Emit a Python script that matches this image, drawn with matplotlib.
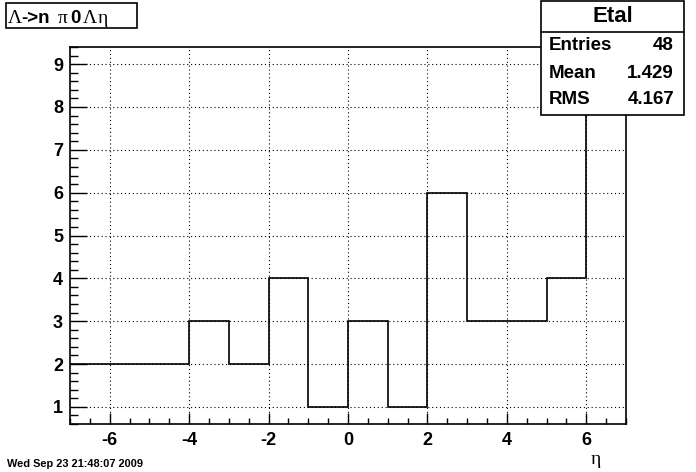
import matplotlib
matplotlib.use("Agg")
import matplotlib.pyplot as plt
from matplotlib.patches import Rectangle
from matplotlib.ticker import MultipleLocator

# histogram "Etal" : eta of Lambda
bin_edges = [-7, -6, -5, -4, -3, -2, -1, 0, 1, 2, 3, 4, 5, 6, 7]
counts = [2, 2, 2, 3, 2, 4, 1, 3, 1, 6, 3, 3, 4, 9]

stat_names = ["Entries", "Mean", "RMS"]
stat_values = ["48", "1.429", "4.167"]
hist_name = "Etal"
date_str = "Wed Sep 23 21:48:07 2009"

W, H = 696, 472
plt.rcParams['font.family'] = ['Liberation Sans', 'DejaVu Sans']
plt.rcParams['axes.unicode_minus'] = False


def fx(px):
    return px / W


def fy(py):
    return 1 - py / H


fig = plt.figure(figsize=(W / 100, H / 100), dpi=100)
fig.patch.set_facecolor("white")

ax = fig.add_axes([fx(70), fy(424), fx(626) - fx(70), fy(47) - fy(424)])
ax.stairs(counts, bin_edges, color="black", lw=1.2, baseline=None)
ax.set_xlim(-7, 7)
ax.set_ylim(0.6, 9.4)

ax.xaxis.set_major_locator(MultipleLocator(2))
ax.xaxis.set_minor_locator(MultipleLocator(0.5))
ax.yaxis.set_major_locator(MultipleLocator(1))
ax.yaxis.set_minor_locator(MultipleLocator(0.2))
ax.tick_params(axis="x", which="major", direction="in", length=8, width=1, pad=6)
ax.tick_params(axis="x", which="minor", direction="in", length=4, width=1)
ax.tick_params(axis="y", which="major", direction="in", length=12, width=1, pad=5)
ax.tick_params(axis="y", which="minor", direction="in", length=6, width=1)
for lab in ax.get_xticklabels() + ax.get_yticklabels():
    lab.set_fontweight("bold")
    lab.set_fontsize(13)
ax.grid(True, which="major", color="black", linestyle=(0, (1, 2.5)), lw=0.8)
for sp in ax.spines.values():
    sp.set_linewidth(1.2)

# x axis label
fig.text(fx(596), fy(459), "η", family=["Liberation Serif"], fontsize=14,
         ha="center", va="center")

# date stamp
fig.text(fx(7), fy(464), date_str, fontsize=7.9, fontweight="bold",
         ha="left", va="center")

# title box
fig.patches.append(Rectangle((fx(6), fy(28)), fx(137) - fx(6), fy(3) - fy(28),
                             transform=fig.transFigure, facecolor="white",
                             edgecolor="black", lw=1.2, zorder=5))
pieces = [
    (8, "Λ", "serif"), (21, "->n", "sans"), (58, "π", "serif"),
    (70, "0", "sans"), (83, "Λ", "serif"), (98, "η", "serif"),
]
for px, s, kind in pieces:
    if kind == "serif":
        fig.text(fx(px), fy(23), s, family=["Liberation Serif"], fontsize=14,
                 ha="left", va="baseline", zorder=6)
    else:
        fig.text(fx(px), fy(23), s, fontsize=13.5, fontweight="bold",
                 ha="left", va="baseline", zorder=6)

# stats box
fig.patches.append(Rectangle((fx(541), fy(115)), fx(684) - fx(541), fy(1) - fy(115),
                             transform=fig.transFigure, facecolor="white",
                             edgecolor="black", lw=1.2, zorder=5))
fig.lines.append(plt.Line2D([fx(541), fx(684)], [fy(32), fy(32)],
                            transform=fig.transFigure, color="black", lw=1.2, zorder=6))
fig.text(fx(612.5), fy(17), hist_name, fontsize=16, fontweight="bold",
         ha="center", va="center", zorder=7)
row_y = [45, 74, 100]
for name, val, yy in zip(stat_names, stat_values, row_y):
    fig.text(fx(549), fy(yy), name, fontsize=13.5, fontweight="bold",
             ha="left", va="center", zorder=7)
    fig.text(fx(674), fy(yy), val, fontsize=13.5, fontweight="bold",
             ha="right", va="center", zorder=7)

fig.savefig("out.png", dpi=100, facecolor="white")
